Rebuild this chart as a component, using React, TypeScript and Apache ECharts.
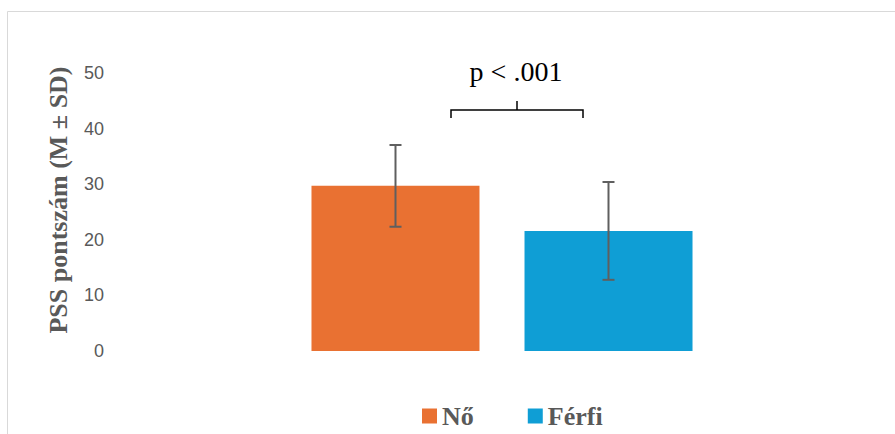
import React, { useEffect, useRef } from "react";
import * as echarts from "echarts";

const categories = [""];
const seriesNames = ["Nő", "Férfi"];
const means = [29.7, 21.6];
const sds = [7.35, 8.8];
const yTicks = [0, 10, 20, 30, 40, 50];
const colors = ["#E97132", "#0F9ED5"];
const pText = "p < .001";
const yTitle = "PSS pontszám (M ± SD)";

const BAR_W = 168;
const BAR_GAP = 45;

export default function App() {
  const ref = useRef<HTMLDivElement>(null);
  useEffect(() => {
    if (!ref.current) return;
    const chart = echarts.init(ref.current, null, { renderer: "svg" });
    const half = (BAR_W + BAR_GAP) / 2;
    const barSeries = seriesNames.map((name, i) => ({
      name,
      type: "bar",
      data: [means[i]],
      barWidth: BAR_W,
      barGap: ((BAR_GAP / BAR_W) * 100).toFixed(1) + "%",
      itemStyle: { color: colors[i] },
      emphasis: { disabled: true },
    }));
    const errSeries = seriesNames.map((name, i) => ({
      name: name + "_err",
      type: "custom",
      data: [[0, means[i] - sds[i], means[i] + sds[i]]],
      z: 10,
      renderItem: (params: any, api: any) => {
        const lo = api.coord([api.value(0), api.value(1)]);
        const hi = api.coord([api.value(0), api.value(2)]);
        const x = lo[0] + (i === 0 ? -half : half);
        const cap = 6;
        const style = { stroke: "#5f5f5f", lineWidth: 2, fill: "none" };
        return {
          type: "group",
          children: [
            { type: "line", shape: { x1: x, y1: lo[1], x2: x, y2: hi[1] }, style },
            { type: "line", shape: { x1: x - cap, y1: lo[1], x2: x + cap, y2: lo[1] }, style },
            { type: "line", shape: { x1: x - cap, y1: hi[1], x2: x + cap, y2: hi[1] }, style },
          ],
        };
      },
    }));
    chart.setOption({
      animation: false,
      grid: { left: 120, right: 11, top: 73, bottom: 83 },
      xAxis: {
        type: "category",
        data: categories,
        axisLine: { show: false },
        axisTick: { show: false },
        axisLabel: { show: false },
      },
      yAxis: {
        type: "value",
        min: yTicks[0],
        max: yTicks[yTicks.length - 1],
        interval: 10,
        splitLine: { show: false },
        axisLine: { show: false },
        axisTick: { show: false },
        axisLabel: {
          margin: 16,
          color: "#595959",
          fontSize: 18,
          fontFamily: "Liberation Sans",
        },
      },
      legend: {
        data: seriesNames,
        left: 417,
        top: 398,
        icon: "rect",
        itemWidth: 15,
        itemHeight: 15,
        itemGap: 54,
        textStyle: {
          color: "#595959",
          fontSize: 26,
          fontWeight: "bold",
          fontFamily: "Liberation Serif",
        },
        selectedMode: false,
      },
      graphic: [
        {
          type: "rect",
          shape: { x: 7.5, y: 11.5, width: 900, height: 440 },
          style: { fill: "none", stroke: "#d9d9d9", lineWidth: 1 },
          silent: true,
        },
        {
          type: "text",
          x: 58,
          y: 200,
          rotation: Math.PI / 2,
          style: {
            text: yTitle,
            fill: "#595959",
            fontSize: 26,
            fontWeight: "bold",
            fontFamily: "Liberation Serif",
            align: "center",
            verticalAlign: "middle",
          },
        },
        {
          type: "text",
          x: 516,
          y: 71,
          style: {
            text: pText,
            fill: "#000000",
            fontSize: 28,
            fontFamily: "Liberation Serif",
            align: "center",
            verticalAlign: "middle",
          },
        },
        {
          type: "polyline",
          shape: { points: [[451, 118], [451, 110], [583, 110], [583, 118]] },
          style: { stroke: "#000", lineWidth: 1.5, fill: "none" },
        },
        {
          type: "line",
          shape: { x1: 517, y1: 110, x2: 517, y2: 101 },
          style: { stroke: "#000", lineWidth: 1.5 },
        },
      ],
      series: [...barSeries, ...errSeries],
    });
    return () => chart.dispose();
  }, []);
  return (
    <div
      ref={ref}
      style={{ position: "fixed", left: 0, top: 0, width: 895, height: 434, background: "#fff" }}
    />
  );
}
